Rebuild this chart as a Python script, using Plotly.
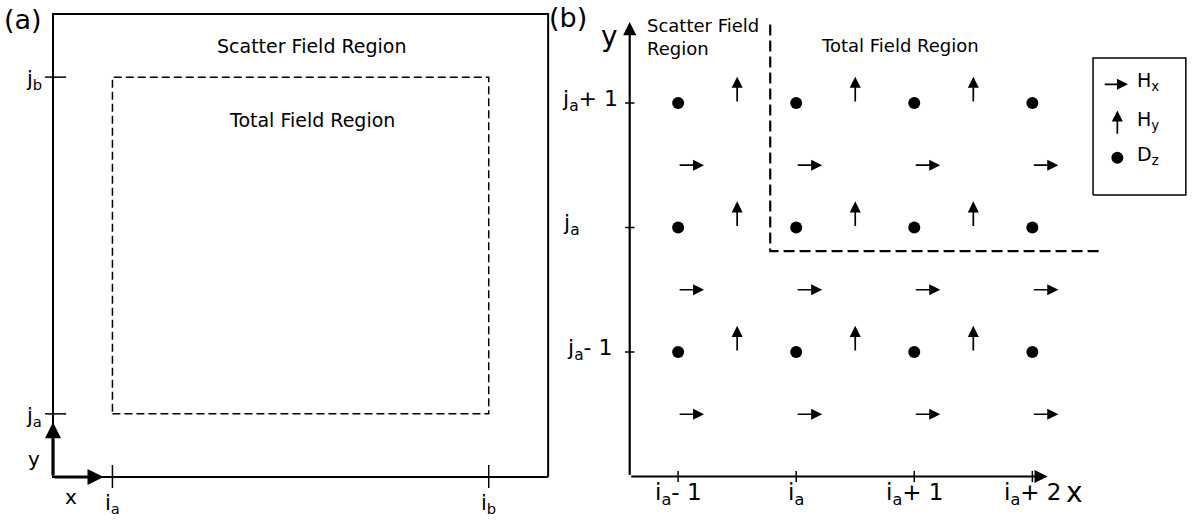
import plotly.graph_objects as go

# ---------------- panel (a): TF/SF regions of the grid ----------------
outer_x = [0, 25]          # outer boundary of the computational domain (cells)
outer_y = [0, 22]
tf_x = [3, 22]             # i_a, i_b
tf_y = [3, 19]             # j_a, j_b
a_xticks = ["i<sub>a</sub>", "i<sub>b</sub>"]
a_yticks = ["j<sub>a</sub>", "j<sub>b</sub>"]

# ---------------- panel (b): Yee cell layout near the corner ----------------
i_pos = [0, 1, 2, 3]
i_labels = ["i<sub>a</sub>- 1", "i<sub>a</sub>", "i<sub>a</sub>+ 1", "i<sub>a</sub>+ 2"]
j_pos = [0, 1, 2]
j_labels = ["j<sub>a</sub>- 1", "j<sub>a</sub>", "j<sub>a</sub>+ 1"]
hx_rows = [-0.5, 0.5, 1.5]          # Hx sits half a cell in y
hy_cols = [0.5, 1.5, 2.5]           # Hy sits half a cell in x
tf_corner = (0.78, 0.81)            # TF/SF boundary corner
tf_top, tf_right = 2.63, 3.60
axis_origin = (-0.41, -1.0)
axis_end = (3.13, 2.65)
arrow_len_x, arrow_len_y = 0.22, 0.21

FONT = "DejaVu Sans"
BLACK = "black"


def seg(x, y, xa, ya, width=1.5, dash=None):
    """Plain line segment on the given axes."""
    fig.add_trace(go.Scatter(x=x, y=y, mode="lines",
                             line=dict(color=BLACK, width=width, dash=dash),
                             xaxis=xa, yaxis=ya, hoverinfo="skip", showlegend=False))


def arrow(x0, y0, x1, y1, xa, ya, width=1.7, size=1.3):
    """Arrow from (x0, y0) to (x1, y1) in data units of the given axes."""
    ann.append(dict(x=x1, y=y1, ax=x0, ay=y0, xref=xa, yref=ya, axref=xa, ayref=ya,
                    text="", showarrow=True, arrowhead=2, arrowsize=size,
                    arrowwidth=width, arrowcolor=BLACK, standoff=0, startstandoff=0))


def label(x, y, text, xa, ya, size, **kw):
    ann.append(dict(x=x, y=y, xref=xa, yref=ya, text=text, showarrow=False,
                    font=dict(family=FONT, size=size, color=BLACK), **kw))


fig = go.Figure()
ann = []

# --- panel (a) ---
ox0, ox1 = outer_x
oy0, oy1 = outer_y
seg([ox1, ox0, ox0, ox1, ox1], [oy0, oy0, oy1, oy1, oy0], "x", "y", width=2)
tx0, tx1 = tf_x
ty0, ty1 = tf_y
seg([tx0, tx1, tx1, tx0, tx0], [ty0, ty0, ty1, ty1, ty0], "x", "y",
    width=1.5, dash="8px,4px")
for yv in tf_y:
    seg([-0.4, 0.66], [yv, yv], "x", "y")
for xv in tf_x:
    seg([xv, xv], [-0.52, 0.57], "x", "y")
arrow(0, 0, 0, 2.6, "x", "y", width=3.2, size=1.0)
arrow(0, 0, 2.55, 0, "x", "y", width=3.2, size=1.0)

label(-0.95, 0.85, "y", "x", "y", 20)
label(0.9, -0.95, "x", "x", "y", 20)
for xv, lab in zip(tf_x, a_xticks):
    label(xv, -1.3, lab, "x", "y", 21)
for yv, lab in zip(tf_y, a_yticks):
    label(-0.45, yv - 0.15, lab, "x", "y", 21, xanchor="right")
label(13.1, 20.5, "Scatter Field Region", "x", "y", 19)
label(13.1, 16.95, "Total Field Region", "x", "y", 19)
label(-1.5, 21.75, "(a)", "x", "y", 27)

# --- panel (b) ---
x0b, y0b = axis_origin
x1b, y1b = axis_end
arrow(x0b, y0b, x0b, y1b, "x2", "y2", width=2.2, size=1.2)
arrow(x0b, y0b, x1b, y0b, "x2", "y2", width=2.2, size=1.2)
for xv in i_pos:
    seg([xv, xv], [y0b - 0.045, y0b + 0.045], "x2", "y2")
for yv in j_pos:
    seg([x0b - 0.04, x0b + 0.04], [yv, yv], "x2", "y2")
for xv, lab in zip(i_pos, i_labels):
    label(xv, -1.14, lab, "x2", "y2", 23)
for yv, lab in zip(j_pos, j_labels):
    xl = -0.75 if lab != "j<sub>a</sub>" else -0.9
    label(xl, yv + 0.02, lab, "x2", "y2", 22)
label(-0.58, 2.53, "y", "x2", "y2", 28)
label(3.36, -1.13, "x", "x2", "y2", 28)
label(-0.93, 2.69, "(b)", "x2", "y2", 27)
label(-0.28, 2.53, "Scatter Field<br>Region", "x2", "y2", 18, xanchor="left", align="left")
label(1.88, 2.46, "Total Field Region", "x2", "y2", 18)

# TF/SF boundary
cx, cy = tf_corner
seg([cx, cx, tf_right], [tf_top, cy, cy], "x2", "y2", width=2.2, dash="11px,5px")

# Dz nodes
dz_x = [i for j in j_pos for i in i_pos]
dz_y = [j for j in j_pos for i in i_pos]
fig.add_trace(go.Scatter(x=dz_x, y=dz_y, mode="markers",
                         marker=dict(color=BLACK, size=12),
                         xaxis="x2", yaxis="y2", hoverinfo="skip", showlegend=False))

# Hx arrows (point +x) and Hy arrows (point +y)
for j in hx_rows:
    for i in i_pos:
        arrow(i, j, i + arrow_len_x, j, "x2", "y2")
for j in j_pos:
    for i in hy_cols:
        arrow(i, j, i, j + arrow_len_y, "x2", "y2")

# key box
kx0, kx1, ky0, ky1 = 3.514, 4.30, 1.261, 2.361
seg([kx0, kx1, kx1, kx0, kx0], [ky0, ky0, ky1, ky1, ky0], "x2", "y2", width=1.5)
key_y = [2.15, 1.84, 1.56]
arrow(3.60, key_y[0], 3.81, key_y[0], "x2", "y2")
arrow(3.72, key_y[1] - 0.1, 3.72, key_y[1] + 0.1, "x2", "y2")
fig.add_trace(go.Scatter(x=[3.72], y=[key_y[2]], mode="markers",
                         marker=dict(color=BLACK, size=12),
                         xaxis="x2", yaxis="y2", hoverinfo="skip", showlegend=False))
for yv, lab in zip(key_y, ["H<sub>x</sub>", "H<sub>y</sub>", "D<sub>z</sub>"]):
    label(3.87, yv + 0.02, lab, "x2", "y2", 19, xanchor="left")

hidden = dict(visible=False, showgrid=False, zeroline=False, fixedrange=True)
fig.update_layout(
    width=1196, height=524,
    margin=dict(l=0, r=0, t=0, b=0),
    paper_bgcolor="white", plot_bgcolor="rgba(0,0,0,0)",
    xaxis=dict(domain=[0, 0.48], range=[-2.677, 26.31], **hidden),
    yaxis=dict(domain=[0, 1], range=[-2.233, 22.665], **hidden),
    xaxis2=dict(domain=[0.45, 1], range=[-1.185, 4.386], **hidden),
    yaxis2=dict(domain=[0, 1], range=[-1.3815, 2.827], anchor="x2", **hidden),
    annotations=ann,
    showlegend=False,
)
fig.write_html("out.html")
